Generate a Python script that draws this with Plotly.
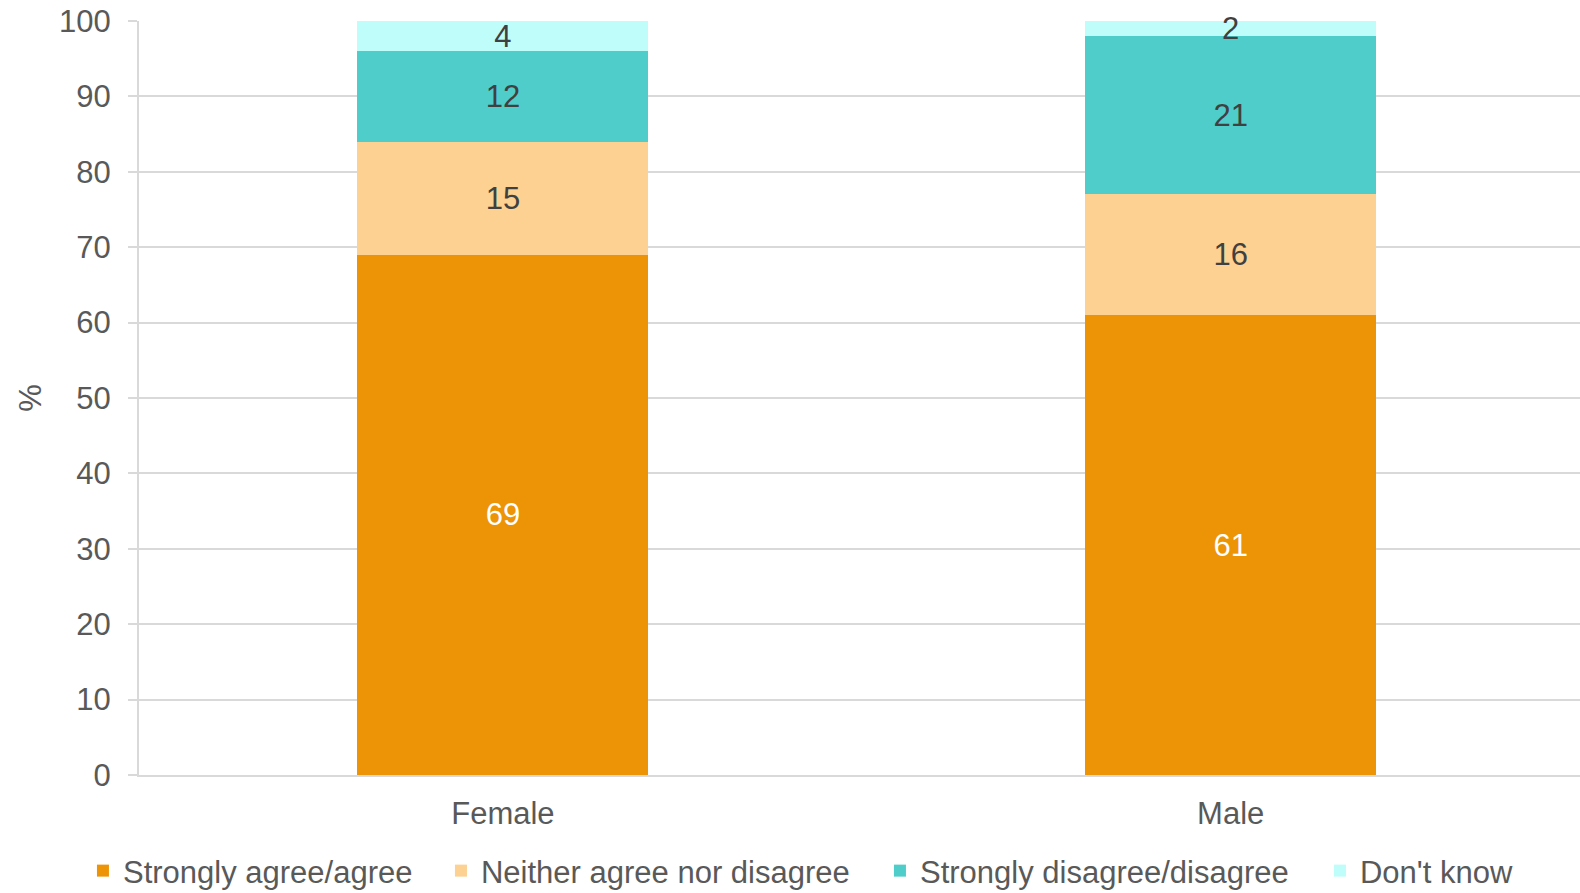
import plotly.graph_objects as go

# Survey responses by gender (percent)
categories = ["Female", "Male"]
series_names = [
    "Strongly agree/agree",
    "Neither agree nor disagree",
    "Strongly disagree/disagree",
    "Don't know",
]
agree = [69, 61]
neither = [15, 16]
disagree = [12, 21]
dont_know = [4, 2]
y_ticks = [0, 10, 20, 30, 40, 50, 60, 70, 80, 90, 100]

values = [agree, neither, disagree, dont_know]
colors = ["#ED9406", "#FCD191", "#4FCDCA", "#BFFDFB"]
label_colors = ["#FFFFFF", "#404040", "#404040", "#404040"]
entry_widths = [313, 394, 395, 150]

FONT = "Liberation Sans, Arial, sans-serif"
FS = 31

fig = go.Figure()
for name, vals, col, lcol, ew in zip(series_names, values, colors, label_colors, entry_widths):
    fig.add_trace(go.Bar(
        x=categories,
        y=vals,
        name=name,
        marker=dict(color=col, line=dict(width=0)),
        width=0.4,
        text=[str(v) for v in vals],
        textposition="inside",
        insidetextanchor="middle",
        textangle=0,
        constraintext="none",
        cliponaxis=False,
        textfont=dict(family=FONT, size=FS, color=lcol),
        legendwidth=ew,
        hoverinfo="skip",
    ))

fig.update_layout(
    barmode="stack",
    width=1580,
    height=893,
    margin=dict(l=139, r=0, t=21, b=118),
    paper_bgcolor="white",
    plot_bgcolor="white",
    font=dict(family=FONT, size=FS, color="#595959"),
    showlegend=True,
    legend=dict(
        orientation="h",
        xref="container",
        yref="container",
        x=0.0525,
        xanchor="left",
        y=0.0549,
        yanchor="top",
        font=dict(family=FONT, size=FS, color="#595959"),
        bgcolor="rgba(0,0,0,0)",
        traceorder="normal",
    ),
    xaxis=dict(
        range=[-0.5, 1.48],
        showline=True,
        linecolor="#D9D9D9",
        linewidth=2,
        ticks="",
        ticklabelstandoff=10,
        tickfont=dict(family=FONT, size=FS, color="#595959"),
        showgrid=False,
        zeroline=False,
    ),
    yaxis=dict(
        range=[0, 100],
        tickvals=y_ticks,
        showline=True,
        linecolor="#D9D9D9",
        linewidth=2,
        ticks="outside",
        ticklen=9,
        tickcolor="#D9D9D9",
        tickwidth=2,
        ticklabelstandoff=11,
        showgrid=True,
        gridcolor="#D9D9D9",
        gridwidth=2,
        zeroline=False,
        tickfont=dict(family=FONT, size=FS, color="#595959"),
        title=dict(text="%", font=dict(family=FONT, size=FS, color="#595959"), standoff=8),
    ),
)

fig.write_html("out.html")
